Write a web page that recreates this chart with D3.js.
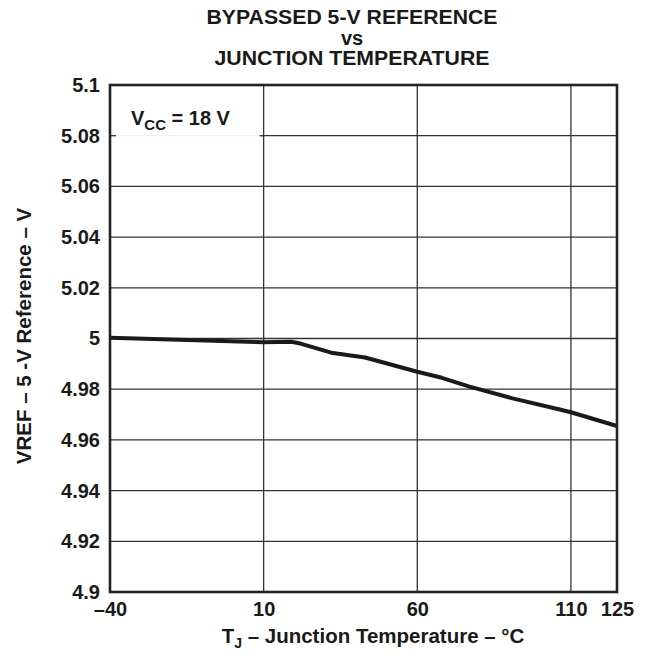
<!DOCTYPE html>
<html>
<head>
<meta charset="utf-8">
<script src="https://cdn.jsdelivr.net/npm/d3@7"></script>
<style>
  html, body { margin: 0; padding: 0; background: #fff; }
  text { font-family: "Liberation Sans", Arial, Helvetica, sans-serif; font-weight: bold; fill: #1a1a1a; }
</style>
</head>
<body>
<svg id="chart" width="648" height="658"></svg>
<script>
// Data
const tempC = [-40, 10, 19, 22, 32, 43, 60, 68, 77, 91, 106, 110, 125];
const vref  = [5.0003, 4.9985, 4.9987, 4.9980, 4.9944, 4.9925, 4.9869, 4.9845, 4.9810, 4.9764, 4.9721, 4.9709, 4.9655];
const xTicks = [-40, 10, 60, 110, 125];
const xTickLabels = ["\u201340", "10", "60", "110", "125"];
const yTicks = [4.9, 4.92, 4.94, 4.96, 4.98, 5.0, 5.02, 5.04, 5.06, 5.08, 5.1];
const yTickLabels = ["4.9", "4.92", "4.94", "4.96", "4.98", "5", "5.02", "5.04", "5.06", "5.08", "5.1"];
const titleLines = ["BYPASSED 5-V REFERENCE", "vs", "JUNCTION TEMPERATURE"];

const svg = d3.select("#chart");
const L = 110, R = 617, T = 85, B = 592;
const x = d3.scaleLinear().domain([-40, 125]).range([L, R]);
const y = d3.scaleLinear().domain([4.9, 5.1]).range([B, T]);

// grid
const grid = svg.append("g");
grid.selectAll("line.v").data(xTicks.slice(1, -1)).enter().append("line")
  .attr("x1", d => x(d)).attr("x2", d => x(d)).attr("y1", T).attr("y2", B)
  .attr("stroke", "#333").attr("stroke-width", 1.3);
grid.selectAll("line.h").data(yTicks.slice(1, -1)).enter().append("line")
  .attr("x1", L).attr("x2", R).attr("y1", d => y(d)).attr("y2", d => y(d))
  .attr("stroke", "#333").attr("stroke-width", 1.3);

// legend white box
svg.append("rect").attr("x", L + 1).attr("y", T + 1)
  .attr("width", x(10) - L - 3).attr("height", y(5.06) - T - 4).attr("fill", "#fff");
svg.append("line").attr("x1", L + 6).attr("x2", x(10) - 3)
  .attr("y1", y(5.08)).attr("y2", y(5.08)).attr("stroke", "#eee").attr("stroke-width", 1);
svg.append("line").attr("x1", L).attr("x2", L + 6)
  .attr("y1", y(5.08)).attr("y2", y(5.08)).attr("stroke", "#333").attr("stroke-width", 1.3);
svg.append("line").attr("x1", x(10) - 4).attr("x2", x(10))
  .attr("y1", y(5.08)).attr("y2", y(5.08)).attr("stroke", "#333").attr("stroke-width", 1.3);

// curve
const line = d3.line().x((d, i) => x(tempC[i])).y(d => y(d));
svg.append("path").datum(vref).attr("d", line)
  .attr("fill", "none").attr("stroke", "#1a1a1a").attr("stroke-width", 4).attr("stroke-linejoin", "round");

// frame
svg.append("rect").attr("x", L).attr("y", T).attr("width", R - L).attr("height", B - T)
  .attr("fill", "none").attr("stroke", "#222").attr("stroke-width", 2.6);

// axes (labels only; ticks are the grid)
const yAxis = d3.axisLeft(y).tickValues(yTicks).tickSize(0).tickPadding(10)
  .tickFormat((d, i) => yTickLabels[i]);
const gy = svg.append("g").attr("transform", `translate(${L},0)`).call(yAxis);
gy.select(".domain").remove();
gy.selectAll("text").attr("font-size", 20).attr("font-family", null).attr("fill", "#1a1a1a");

const xAxis = d3.axisBottom(x).tickValues(xTicks).tickSize(0).tickPadding(10)
  .tickFormat((d, i) => xTickLabels[i]);
const gx = svg.append("g").attr("transform", `translate(0,${B})`).call(xAxis);
gx.select(".domain").remove();
gx.selectAll("text").attr("font-size", 20).attr("font-family", null).attr("fill", "#1a1a1a");

// title
const titleLen = [291, null, 275];
svg.selectAll("text.title").data(titleLines).enter().append("text")
  .attr("class", "title").attr("x", 352).attr("y", (d, i) => [24, 45, 65][i])
  .attr("text-anchor", "middle").attr("font-size", 20)
  .each(function (d, i) {
    if (titleLen[i]) d3.select(this).attr("textLength", titleLen[i]).attr("lengthAdjust", "spacingAndGlyphs");
  })
  .text(d => d);

// legend text
const vt = svg.append("text").attr("x", 131).attr("y", 125).attr("font-size", 20);
vt.append("tspan").text("V");
vt.append("tspan").attr("dy", 5).attr("font-size", 15).text("CC");
vt.append("tspan").attr("dy", -5).text(" = 18 V");

// x title
const xt = svg.append("text").attr("x", 373).attr("y", 643).attr("text-anchor", "middle").attr("font-size", 20.5);
xt.append("tspan").text("T");
xt.append("tspan").attr("dy", 5).attr("font-size", 14).text("J");
xt.append("tspan").attr("dy", -5).text(" \u2013 Junction Temperature \u2013 \u00B0C");

// y title
svg.append("text").attr("transform", "translate(31,336) rotate(-90)")
  .attr("text-anchor", "middle").attr("font-size", 20.5)
  .text("VREF \u2013 5 -V Reference \u2013 V");
</script>
</body>
</html>
